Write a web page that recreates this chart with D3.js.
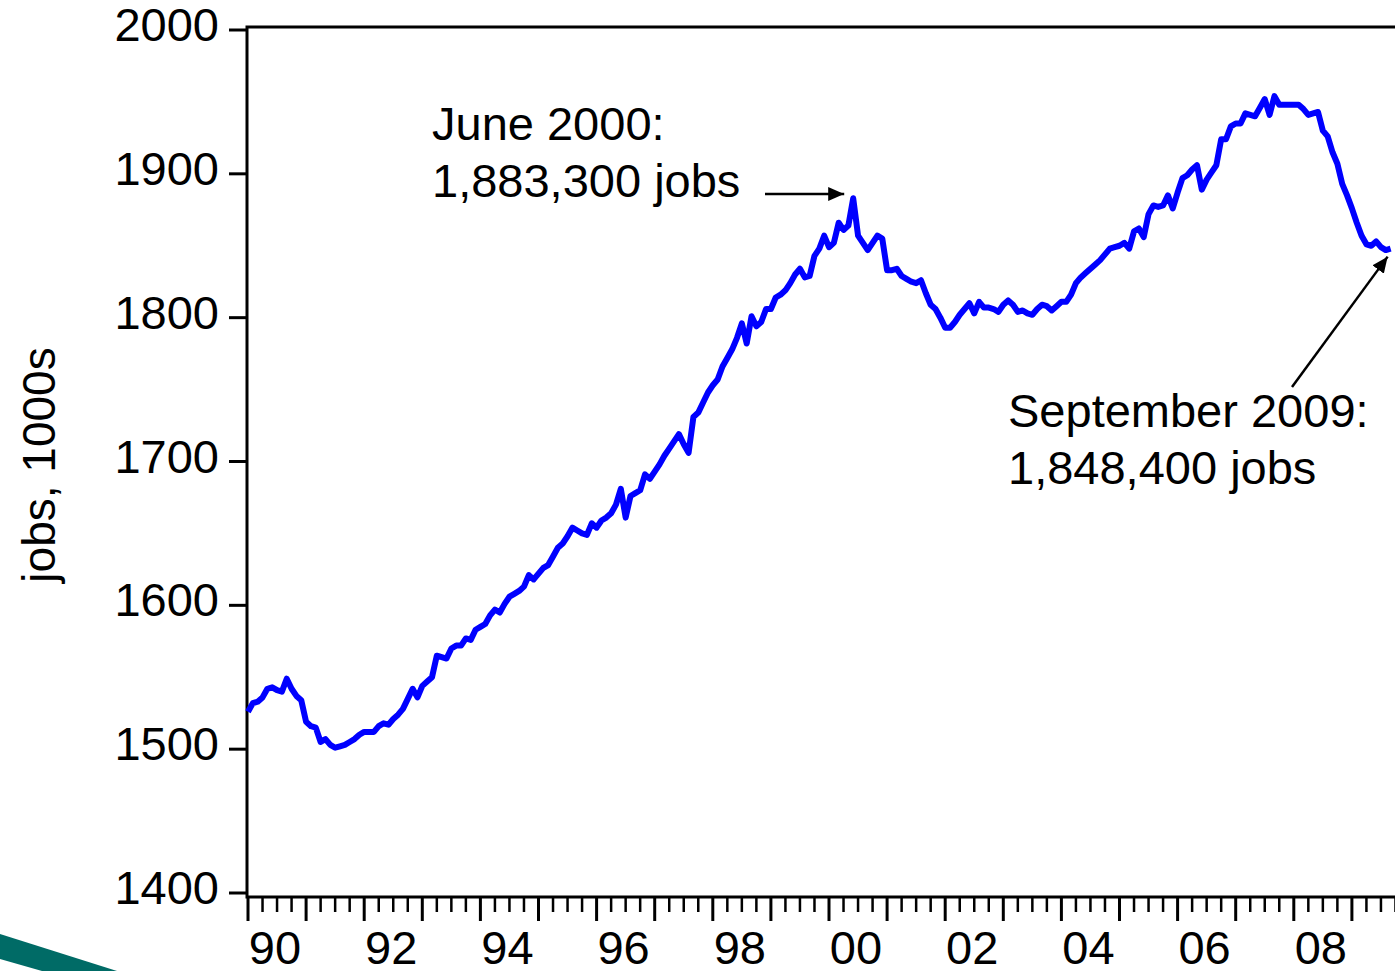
<!DOCTYPE html>
<html>
<head>
<meta charset="utf-8">
<script src="https://cdnjs.cloudflare.com/ajax/libs/d3/7.8.5/d3.min.js"></script>
<style>
    body { margin: 0; background: #fff; }
    svg text { font-family: "Liberation Sans", Arial, sans-serif; fill: #000; }
</style>
</head>
<body>
<script>
(function(){

// first month of the series and the monthly values (jobs, 1000s), Jan 1990 .. Sep 2009
var startYear = 1990;
var jobs1990 = [1526, 1532, 1533, 1536, 1542, 1543, 1541, 1540, 1549, 1542, 1537, 1534];
var jobs1991 = [1519, 1516, 1515, 1505, 1507, 1503, 1501, 1502, 1503, 1505, 1507, 1510];
var jobs1992 = [1512, 1512, 1512, 1516, 1518, 1517, 1521, 1524, 1528, 1535, 1542, 1536];
var jobs1993 = [1544, 1547, 1550, 1565, 1564, 1563, 1570, 1572, 1572, 1577, 1576, 1583];
var jobs1994 = [1585, 1587, 1593, 1597, 1595, 1601, 1606, 1608, 1610, 1613, 1621, 1618];
var jobs1995 = [1622, 1626, 1628, 1634, 1640, 1643, 1648, 1654, 1652, 1650, 1649, 1657];
var jobs1996 = [1654, 1659, 1661, 1664, 1670, 1681, 1661, 1676, 1678, 1680, 1691, 1688];
var jobs1997 = [1693, 1698, 1704, 1709, 1714, 1719, 1712, 1706, 1731, 1734, 1741, 1748];
var jobs1998 = [1753, 1757, 1766, 1772, 1778, 1786, 1796, 1782, 1801, 1794, 1797, 1806];
var jobs1999 = [1806, 1814, 1816, 1819, 1824, 1830, 1834, 1828, 1829, 1843, 1848, 1857];
var jobs2000 = [1849, 1852, 1866, 1861, 1864, 1883, 1857, 1852, 1847, 1852, 1857, 1855];
var jobs2001 = [1833, 1833, 1834, 1829, 1827, 1825, 1824, 1826, 1817, 1809, 1806, 1800];
var jobs2002 = [1793, 1793, 1797, 1802, 1806, 1810, 1803, 1811, 1807, 1807, 1806, 1804];
var jobs2003 = [1809, 1812, 1809, 1804, 1805, 1803, 1802, 1806, 1809, 1808, 1805, 1808];
var jobs2004 = [1811, 1811, 1816, 1824, 1828, 1831, 1834, 1837, 1840, 1844, 1848, 1849];
var jobs2005 = [1850, 1852, 1848, 1860, 1862, 1856, 1872, 1878, 1877, 1878, 1885, 1876];
var jobs2006 = [1887, 1897, 1899, 1903, 1906, 1889, 1896, 1901, 1906, 1924, 1924, 1933];
var jobs2007 = [1935, 1935, 1942, 1941, 1940, 1946, 1952, 1941, 1954, 1948, 1948, 1948];
var jobs2008 = [1948, 1948, 1945, 1941, 1942, 1943, 1930, 1926, 1915, 1907, 1893, 1885];
var jobs2009 = [1876, 1866, 1857, 1851, 1850, 1853, 1849, 1847, 1848];

// axis ticks and labels
var yTicks = [1400, 1500, 1600, 1700, 1800, 1900, 2000];
var xLabels = ["90", "92", "94", "96", "98", "00", "02", "04", "06", "08"];
var yTitle = "jobs, 1000s";

// annotations
var peakNote = ["June 2000:", "1,883,300 jobs"];
var lastNote = ["September 2009:", "1,848,400 jobs"];

var jobs = [].concat(jobs1990, jobs1991, jobs1992, jobs1993, jobs1994, jobs1995, jobs1996,
    jobs1997, jobs1998, jobs1999, jobs2000, jobs2001, jobs2002, jobs2003, jobs2004,
    jobs2005, jobs2006, jobs2007, jobs2008, jobs2009);

var series = jobs.map(function(v, i){
    return { t: startYear + i / 12, v: v };
});

var width = 1395,
    height = 971,
    frameLeft = 247,
    frameTop = 27,
    frameBottom = 897;

var svg = d3.select("body")
    .append("svg")
    .attr("width", width)
    .attr("height", height);

// scales
var x = d3.scaleLinear()
    .domain([1990, 2010])
    .range([248, 248 + 20 * 58.1]);

var y = d3.scaleLinear()
    .domain([1400, 2000])
    .range([893, 30]);

// slide decoration bottom left
svg.append("path")
    .attr("d", "M0,934 L117,971 L42,971 L0,959 Z")
    .attr("fill", "#006b66");

// frame (right side falls off the picture)
svg.append("path")
    .attr("d", "M" + (width + 10) + "," + frameTop + " H" + frameLeft + " V" + frameBottom + " H" + (width + 10))
    .attr("fill", "none")
    .attr("stroke", "#000")
    .attr("stroke-width", 3);

// y axis ticks
var yAxis = svg.append("g").attr("class", "y axis");
yAxis.selectAll("line")
    .data(yTicks)
    .enter()
    .append("line")
    .attr("x1", 229)
    .attr("x2", frameLeft)
    .attr("y1", function(d){ return y(d); })
    .attr("y2", function(d){ return y(d); })
    .attr("stroke", "#000")
    .attr("stroke-width", 3);

yAxis.selectAll("text")
    .data(yTicks)
    .enter()
    .append("text")
    .attr("x", 219)
    .attr("y", function(d){ return y(d) + 11; })
    .attr("text-anchor", "end")
    .style("font-size", "47px")
    .text(function(d){ return d; });

// x axis ticks: quarterly minor, yearly major
var quarters = d3.range(1990, 2009.76, 0.25);
var xAxis = svg.append("g").attr("class", "x axis");
xAxis.selectAll("line")
    .data(quarters)
    .enter()
    .append("line")
    .attr("x1", function(d){ return x(d); })
    .attr("x2", function(d){ return x(d); })
    .attr("y1", frameBottom)
    .attr("y2", function(d){ return d % 1 === 0 ? 921 : 912; })
    .attr("stroke", "#000")
    .attr("stroke-width", function(d){ return d % 1 === 0 ? 3 : 2.5; });

xAxis.selectAll("text")
    .data(xLabels)
    .enter()
    .append("text")
    .attr("x", function(d, i){ return x(1990 + 2 * i) + 27; })
    .attr("y", 964)
    .attr("text-anchor", "middle")
    .style("font-size", "47px")
    .text(function(d){ return d; });

// axis title
svg.append("text")
    .attr("transform", "translate(55,465) rotate(-90)")
    .attr("text-anchor", "middle")
    .style("font-size", "46px")
    .text(yTitle);

// the series
var line = d3.line()
    .x(function(d){ return x(d.t); })
    .y(function(d){ return y(d.v); });

svg.append("path")
    .datum(series)
    .attr("d", line)
    .attr("fill", "none")
    .attr("stroke", "#0000ff")
    .attr("stroke-width", 6)
    .attr("stroke-linejoin", "round");

// arrowhead marker
svg.append("defs")
    .append("marker")
    .attr("id", "head")
    .attr("viewBox", "0 0 16 14")
    .attr("refX", 16)
    .attr("refY", 7)
    .attr("markerWidth", 16)
    .attr("markerHeight", 14)
    .attr("markerUnits", "userSpaceOnUse")
    .attr("orient", "auto")
    .append("path")
    .attr("d", "M0,0 L16,7 L0,14 Z")
    .attr("fill", "#000");

// notes
function addNote(lines, tx, ty){
    svg.append("text")
        .attr("x", tx)
        .attr("y", ty)
        .style("font-size", "47px")
        .text(lines[0]);
    svg.append("text")
        .attr("x", tx)
        .attr("y", ty + 57)
        .style("font-size", "47px")
        .text(lines[1]);
}
addNote(peakNote, 432, 140);
addNote(lastNote, 1008, 427);

var peak = series[125],
    last = series[series.length - 1];

svg.append("line")
    .attr("x1", 765)
    .attr("y1", 194)
    .attr("x2", x(peak.t) - 9)
    .attr("y2", 194)
    .attr("stroke", "#000")
    .attr("stroke-width", 2.5)
    .attr("marker-end", "url(#head)");

svg.append("line")
    .attr("x1", 1292)
    .attr("y1", 387)
    .attr("x2", x(last.t) - 3)
    .attr("y2", y(last.v) + 8)
    .attr("stroke", "#000")
    .attr("stroke-width", 2.5)
    .attr("marker-end", "url(#head)");

})();
</script>
</body>
</html>
